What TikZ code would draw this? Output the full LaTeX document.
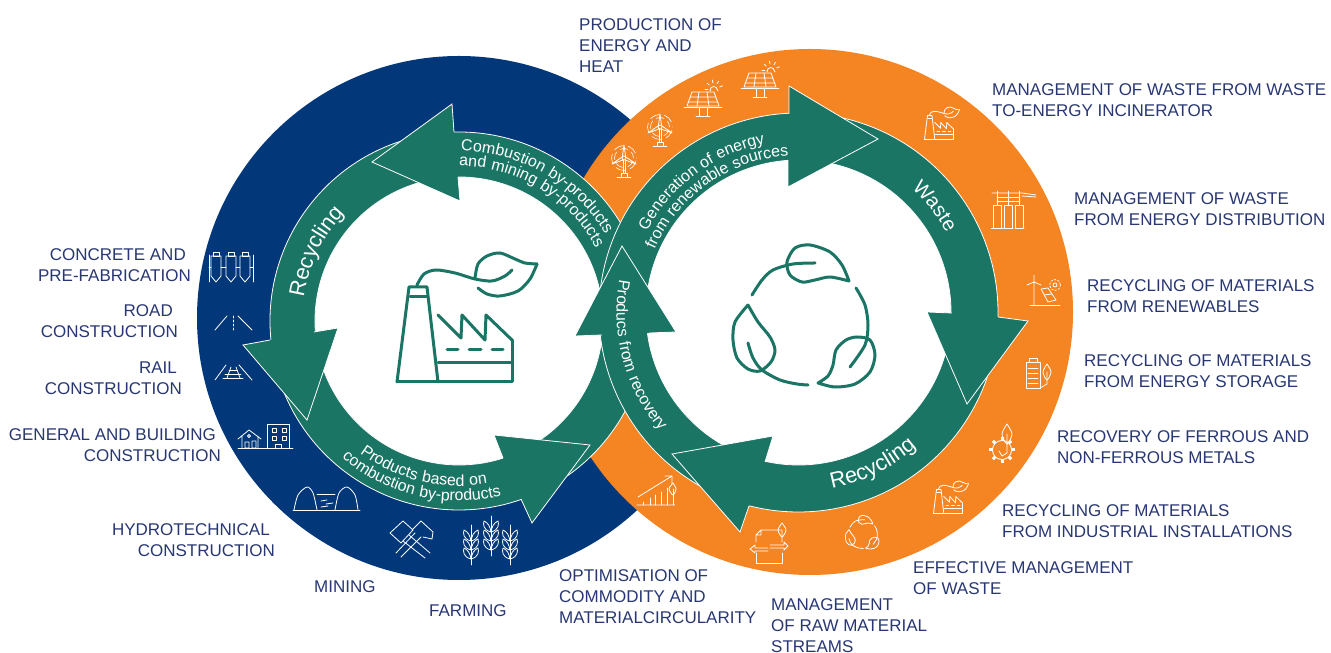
\documentclass[tikz,border=0pt]{standalone}
\usepackage{fontspec}
\setmainfont{Liberation Sans}
\usetikzlibrary{decorations.text}

\definecolor{navyblue}{RGB}{2,56,122}
\definecolor{ringorange}{RGB}{245,132,35}
\definecolor{ringgreen}{RGB}{27,117,100}
\definecolor{labelblue}{RGB}{40,55,115}

\newcommand{\arcfont}{\fontsize{16}{16}\selectfont\addfontfeature{LetterSpace=4}}
\newcommand{\midarcfont}{\fontsize{20}{20}\selectfont}
\newcommand{\bigarcfont}{\fontsize{22}{22}\selectfont}

% ring sector: centre, inner radius, outer radius, from, to
\newcommand{\ringpart}[5]{\path[ringbody] ([shift={(#4:#3)}]#1) arc[start angle=#4,end angle=#5,radius=#3]
    -- ([shift={(#5:#2)}]#1) arc[start angle=#5,end angle=#4,radius=#2] -- cycle;}
% arrow head: body edge, corner, tip, corner, body edge
\newcommand{\ringtip}[5]{\path[ringhead] #1 -- #2 -- #3 -- #4 -- #5;}

\tikzset{
    ringbody/.style={fill=ringgreen, draw=white, line width=0.8pt},
    ringhead/.style={fill=ringgreen, draw=white, line width=0.8pt, line join=miter},
    arclabel/.style={decorate, decoration={text along path, text align=center, text={|\color{white}\arcfont|#1}}},
    midarclabel/.style={decorate, decoration={text along path, text align=center, text={|\color{white}\midarcfont|#1}}},
    bigarclabel/.style={decorate, decoration={text along path, text align=center, text={|\color{white}\bigarcfont|#1}}},
    pxgrid/.style={yshift=653pt, y=-1pt},
    factoryicon/.pic={
        \begin{scope}[shift={(-455,-317)}]
            \draw[pic actions] (397,382) -- (409,287) -- (427,287) -- (438,382);
            \draw[pic actions] (410,297) -- (427,297);
            \draw[pic actions] (397,382) -- (512,382) -- (512,340);
            \draw[pic actions] (438,363) -- (512,363);
            \draw[pic actions] (447,350) -- (458,350) (469,350) -- (481,350) (492,350) -- (503,350);
            \draw[pic actions] (438,315) -- (461,338) -- (462,315) -- (485,340) -- (486,315) -- (512,340);
            \draw[pic actions] plot[smooth] coordinates {(417,285) (424,274) (436,270) (455,273) (475,279) (492,281) (505,276) (512,270)};
            \draw[pic actions] plot[smooth] coordinates {(475,278) (478,264) (487,256) (500,253) (515,259) (525,263) (537,264)};
            \draw[pic actions] plot[smooth] coordinates {(537,264) (530,279) (518,291) (500,296) (487,294) (478,288)};
        \end{scope}
    },
    recycleicon/.pic={
        \begin{scope}[shift={(-803,-315)}]
            \draw[pic actions] plot[smooth] coordinates {(752,295) (762,280) (773,270) (793,264) (815,263)};
            \draw[pic actions] plot[smooth] coordinates {(849,281) (842,265) (830,252) (810,245) (795,248) (787,262) (790,275) (802,282) (815,280) (830,277) (849,281)};
            \draw[pic actions] plot[smooth] coordinates {(856,288) (865,305) (868,325) (865,345) (850,367)};
            \draw[pic actions] plot[smooth] coordinates {(818,383) (828,376) (833,365) (836,350) (846,340) (857,337) (870,340) (875,355) (870,372) (855,384) (835,387) (818,383)};
            \draw[pic actions] plot[smooth] coordinates {(748,343) (753,358) (762,370) (780,380) (797,384) (808,385)};
            \draw[pic actions] plot[smooth] coordinates {(748,305) (735,322) (733,340) (737,358) (748,369) (760,371) (771,362) (775,350) (770,337) (758,322) (748,305)};
        \end{scope}
    },
    turbineicon/.pic={
        \draw[pic actions] (-1,2) -- (-1,15) (1,2) -- (1,15);
        \draw[pic actions] (-3,15) rectangle (3,19) (-7,19) -- (7,19);
        \draw[pic actions] (0,0) circle[radius=2];
        \draw[pic actions] (-1.5,-2) -- (0,-13) -- (1.5,-2) (2,-1) -- (12,6) -- (1,2) (-2,-1) -- (-12,6) -- (-1,2);
        \draw[pic actions, line width=0.6pt, dash pattern=on 8pt off 4.5pt, dash phase=-3pt] (0,0) circle[radius=9.5];
        \draw[pic actions, line width=0.6pt, dash pattern=on 10pt off 5pt, dash phase=-3pt] (0,0) circle[radius=12.5];
    },
    panelicon/.pic={
        \draw[pic actions] (-11,-10) -- (11,-10) -- (16,4) -- (-16,4) -- cycle;
        \draw[pic actions] (-19,5) -- (19,5);
        \draw[pic actions] (-4,-10) -- (-6,4) (4,-10) -- (6,4) (-13,-5) -- (13,-5) (-15,0) -- (15,0);
        \draw[pic actions] (-4,5) -- (-4,14) (4,5) -- (4,14) (-7,14) -- (7,14);
        \draw[pic actions] (7,-11) .. controls (7,-17) and (14,-17) .. (15,-11);
        \foreach \a in {-20,-60,-100,-140,-180}
            \draw[pic actions] ([shift={(\a:6)}]11,-13) -- ([shift={(\a:9)}]11,-13);
    },
    wheaticon/.pic={
        \draw[pic actions] (0,0) -- (0,40);
        \foreach \y in {7,16,25}{
            \draw[pic actions] (0,\y+9) .. controls (-8,\y+7) and (-8,\y+1) .. (-7,\y-2) .. controls (-3,\y) and (-1,\y+3) .. (0,\y+9);
            \draw[pic actions] (0,\y+9) .. controls (8,\y+7) and (8,\y+1) .. (7,\y-2) .. controls (3,\y) and (1,\y+3) .. (0,\y+9);
        }
    }
}

\begin{document}
\begin{tikzpicture}[x=1pt,y=1pt]
    \useasboundingbox (0,0) rectangle (1331,653);

    % Styles
    \tikzstyle{lab} = [anchor=north west, inner sep=0pt, align=left, text=labelblue, yshift=-1pt,
                       font=\fontsize{17}{21}\selectfont]
    \tikzstyle{labr} = [lab, anchor=north east, align=right]
    \tikzstyle{ico} = [draw=white, line width=0.8pt, line join=round, line cap=round]
    \tikzstyle{mainicon} = [draw=ringgreen, line width=3pt, line join=round, line cap=round]

    \coordinate (cl) at (459,332);
    \coordinate (cr) at (798.5,340.5);

    % ==== Discs ====
    \fill[navyblue] (459,335) circle[radius=262];
    \fill[ringorange] (810,341) circle[radius=263];
    \fill[white] (cl) circle[radius=144];
    \fill[white] (cr) circle[radius=152.5];

    % ==== Ring bodies ====
    \ringpart{cl}{144}{189}{-58}{0}
    \ringpart{cl}{144}{189}{0}{93}
    \ringpart{cl}{144}{189}{105}{187}
    \ringpart{cl}{144}{189}{198}{291}
    \ringpart{cr}{152.5}{199.5}{190}{90}
    \ringpart{cr}{152.5}{199.5}{80}{-3}
    \ringpart{cr}{152.5}{199.5}{-14}{-107}
    \ringpart{cr}{152.5}{199.5}{242}{184}

    % ==== Arrow heads ====
    \ringtip{(454,521)}{(452,549)}{(372,491)}{(460,452)}{(458,476)}
    \ringtip{(270,313)}{(243,308)}{(307,233)}{(338,325)}{(314,321)}
    \ringtip{(521,154)}{(532,130)}{(590,208)}{(494,218)}{(503,195)}
    \ringtip{(788,493)}{(788,466)}{(878,514)}{(789,567)}{(789,539)}
    \ringtip{(998,336)}{(1028,332)}{(967,249)}{(927,341)}{(952,340)}
    \ringtip{(749,147)}{(740,121)}{(672,199)}{(773,217)}{(765,191)}
    \ringtip{(602,318)}{(575,317)}{(622,407)}{(676,321)}{(649,320)}

    % ==== Texts on the rings ====
    \path[arclabel={Combustion by-products}] ([shift={(125:170)}]cl) arc[start angle=125,end angle=-5,radius=170];
    \path[arclabel={and mining by-products}] ([shift={(125:155)}]cl) arc[start angle=125,end angle=-7,radius=155];
    \path[bigarclabel={Recycling}] ([shift={(194:157)}]cl) arc[start angle=194,end angle=114,radius=157];
    \path[arclabel={Products based on}] ([shift={(205:165)}]cl) arc[start angle=205,end angle=308,radius=165];
    \path[arclabel={combustion by-products}] ([shift={(205:180)}]cl) arc[start angle=205,end angle=308,radius=180];
    \path[arclabel={Generation of energy}] ([shift={(165:172)}]cr) arc[start angle=165,end angle=88,radius=172];
    \path[arclabel={from renewable sources}] ([shift={(165:157)}]cr) arc[start angle=165,end angle=85,radius=157];
    \path[midarclabel={Waste}] ([shift={(70:168)}]cr) arc[start angle=70,end angle=6,radius=168];
    \path[bigarclabel={Recycling}] ([shift={(261:179)}]cr) arc[start angle=261,end angle=331,radius=179];
    \path[arclabel={Producs from recovery}] ([shift={(155:182)}]cr) arc[start angle=155,end angle=235,radius=182];

    \begin{scope}[pxgrid]
        % ==== Central icons ====
        \pic[mainicon] at (455,317) {factoryicon};
        \pic[mainicon] at (803,315) {recycleicon};

        % ==== Left side icons ====
        \foreach \x in {216,231,245}{
            \draw[ico] (\x-3,252) rectangle (\x+3,256);
            \draw[ico] (\x-5,256) -- (\x-5,276) -- (\x,282) -- (\x+5,276) -- (\x+5,256) -- cycle;
        }
        \draw[ico] (209,255) -- (209,282) (253,255) -- (253,282);
        \draw[ico] (209,267) -- (211,267) (221,267) -- (226,267) (236,267) -- (240,267) (250,267) -- (253,267);
        \draw[ico] (215,330) -- (227,316) (238,316) -- (252,330);
        \draw[ico, dash pattern=on 2pt off 2pt] (233,316) -- (233,330);
        \draw[ico] (215,380) -- (226,365) (239,365) -- (252,380);
        \draw[ico] (229,370) -- (237,370) (225,374) -- (241,374) (223,378) -- (243,378);
        \draw[ico] (231,367) -- (227,378) (236,367) -- (240,378);
        \draw[ico] (238,448) -- (293,448);
        \draw[ico] (238,439) -- (249,430) -- (261,439) (242,436) -- (242,448) (258,436) -- (258,448);
        \draw[ico] (249,436) circle[radius=1.5] (245,442) rectangle (249,448) (252,441) rectangle (256,448);
        \draw[ico] (267,448) -- (267,424) -- (289,424) -- (289,448);
        \foreach \x in {272,282}
            \foreach \y in {428,436}
                \draw[ico] (\x,\y) rectangle (\x+4,\y+4);
        \draw[ico] (275,448) -- (275,444) -- (281,444) -- (281,448);
        \draw[ico] (293,510) -- (360,510);
        \draw[ico] plot[smooth] coordinates {(294,510) (298,495) (307,487) (313,493) (317,510)};
        \draw[ico] plot[smooth] coordinates {(335,510) (339,493) (347,487) (355,495) (358,510)};
        \draw[ico] (317,494) -- (335,494);
        \draw[ico] (321,501) -- (327,500) (326,504) -- (333,503) (321,507) -- (328,506);
        \draw[ico] (390,533) -- (403,521) -- (413,530) -- (401,543) -- cycle;
        \draw[ico] (412,530) -- (421,521) -- (433,532) -- (432,539) -- (423,537);
        \draw[ico] (403,541) -- (425,558) (409,535) -- (430,553);
        \draw[ico] (415,533) -- (396,553) (421,537) -- (401,557);
        \pic[ico] at (471,525) {wheaticon};
        \pic[ico] at (491,516) {wheaticon};
        \pic[ico] at (510,525) {wheaticon};

        % ==== Right side icons ====
        \pic[ico] at (660,127) {turbineicon};
        \pic[ico] at (624,158) {turbineicon};
        \pic[ico] at (703,102) {panelicon};
        \pic[ico] at (760,83) {panelicon};
        \pic[ico,scale=0.25] at (939,123) {factoryicon};
        \draw[ico] (992,193) -- (1022,193) -- (1036,195) (1022,196) -- (1036,197);
        \draw[ico] (997,197) -- (1020,197) (997,201) -- (1020,201);
        \foreach \x in {997,1008,1019}{
            \draw[ico] (\x,191) -- (\x,205);
            \draw[ico] (\x-4,228) -- (\x-4,205) -- (\x+4,205) -- (\x+4,228);
        }
        \draw[ico] (991,228) -- (1003,228) (1004,228) -- (1013,228) (1015,228) -- (1024,228);
        \draw[ico] (1034,282) -- (1034,305) (1034,282) -- (1027,285) (1034,282) -- (1041,285) (1034,282) -- (1034,275);
        \draw[ico] (1030,305) -- (1060,305);
        \draw[ico] (1041,289) -- (1048,288) -- (1056,300) -- (1048,302) -- cycle (1044,295) -- (1052,294);
        \draw[ico] (1055,285) circle[radius=2];
        \draw[ico, dash pattern=on 1.5pt off 2pt] (1055,285) circle[radius=5.5];
        \draw[ico] (1026,362) rectangle (1040,388) (1029,358) rectangle (1037,362);
        \foreach \y in {368,373,378,383}
            \draw[ico] (1028,\y) -- (1038,\y);
        \draw[ico] plot[smooth] coordinates {(1047,364) (1043,372) (1047,380) (1051,372) (1047,364)};
        \draw[ico] (1047,372) -- (1047,384) -- (1040,388);
        \foreach \a in {0,45,...,315}
            \draw[ico, line width=3pt, line cap=butt] ([shift={(\a:9)}]1002,450) -- ([shift={(\a:13)}]1002,450);
        \fill[white] (1002,450) circle[radius=10];
        \fill[ringorange] (1002,450) circle[radius=9];
        \draw[ico] plot[smooth] coordinates {(1007,424) (1002,434) (1007,444) (1012,434) (1007,424)};
        \draw[ico] (1007,434) -- (1007,453) -- (1002,456) -- (999,451);
        \pic[ico,scale=0.25] at (948,497) {factoryicon};
        \pic[ico,scale=0.236] at (862,532) {recycleicon};
        \draw[ico] (761,530) -- (782,530) -- (782,542) (756,535) -- (761,530) -- (761,535) -- (756,535) -- (756,542);
        \draw[ico] (756,553) -- (756,563) -- (782,563) -- (782,553);
        \draw[ico] (770,545) -- (784,545) -- (784,542) -- (788,546) -- (784,550) -- (784,548) -- (770,548);
        \draw[ico] (768,548) -- (755,548) -- (755,545) -- (750,549) -- (755,553) -- (755,551) -- (768,551);
        \draw[ico] plot[smooth] coordinates {(782,523) (778,530) (782,537) (786,530) (782,523)};
        \draw[ico] (637,505) -- (675,505) (638,497) -- (672,476) -- (665,476) (672,476) -- (672,484);
        \foreach \x/\y in {643/502,650/498,655/495,661/492,667/488}
            \draw[ico] (\x,505) -- (\x,\y);
        \draw[ico] plot[smooth] coordinates {(673,483) (669,489) (673,495) (676,489) (673,483)};
        \draw[ico] (673,489) -- (673,505);

        % ==== Labels ====
        \node[lab] (energy)    at (579,17)  {PRODUCTION OF\\ENERGY AND\\HEAT};
        \node[lab] (incin)     at (992,82)  {MANAGEMENT OF WASTE FROM WASTE\\TO-ENERGY INCINERATOR};
        \node[lab] (distrib)   at (1074,191) {MANAGEMENT OF WASTE\\FROM ENERGY DISTRIBUTION};
        \node[lab] (renew)     at (1087,278) {RECYCLING OF MATERIALS\\FROM RENEWABLES};
        \node[lab] (storage)   at (1084,353) {RECYCLING OF MATERIALS\\FROM ENERGY STORAGE};
        \node[lab] (ferrous)   at (1057,429) {RECOVERY OF FERROUS AND\\NON-FERROUS METALS};
        \node[lab] (industry)  at (1002,503) {RECYCLING OF MATERIALS\\FROM INDUSTRIAL INSTALLATIONS};
        \node[lab] (effective) at (913,560)  {EFFECTIVE MANAGEMENT\\OF WASTE};
        \node[lab] (raw)       at (771,597)  {MANAGEMENT\\OF RAW MATERIAL\\STREAMS};
        \node[lab] (optim)     at (559,568)  {OPTIMISATION OF\\COMMODITY AND\\MATERIALCIRCULARITY};
        \node[lab] (farming)   at (429,603)  {FARMING};
        \node[lab] (mining)    at (314,579)  {MINING};
        \node[labr] (hydro)    at (275,522)  {HYDROTECHNICAL\hspace*{5pt}\\CONSTRUCTION};
        \node[labr] (building) at (221,427)  {GENERAL AND BUILDING\hspace*{5pt}\\CONSTRUCTION};
        \node[labr] (rail)     at (182,361)  {RAIL\hspace*{5pt}\\CONSTRUCTION};
        \node[labr] (road)     at (178,303)  {ROAD\hspace*{5pt}\\CONSTRUCTION};
        \node[labr] (concrete) at (191,247)  {CONCRETE AND\hspace*{5pt}\\PRE-FABRICATION};
    \end{scope}
\end{tikzpicture}
\end{document}
